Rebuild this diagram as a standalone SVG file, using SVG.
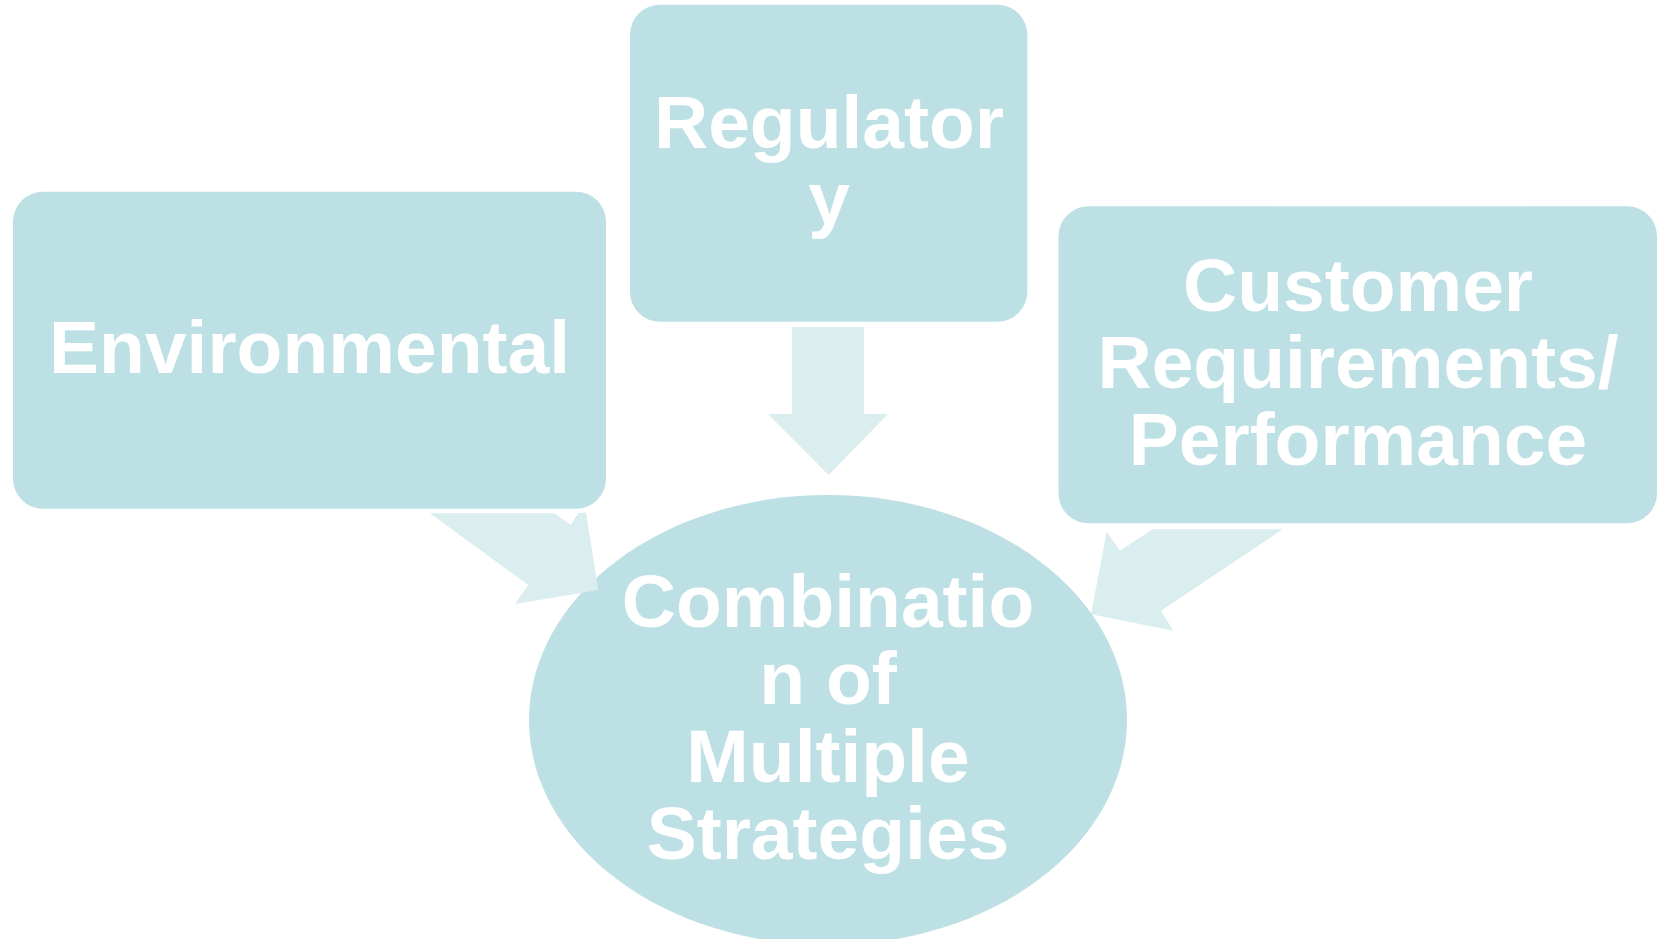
<svg xmlns="http://www.w3.org/2000/svg" width="1659" height="939" viewBox="0 0 1659 939">
<style>
.node{fill:#BCE0E3}
.arrow{fill:#DAEDEF}
.lbl{font-family:"Liberation Sans",Arial,sans-serif;font-weight:bold;font-size:75px;fill:#FFFFFF;text-anchor:middle}
</style>
<rect width="1659" height="939" fill="#FFFFFF"/>
<g id="combination">
<ellipse class="node" cx="828" cy="720" rx="299" ry="225"/>
<text class="lbl" x="828" y="627">Combinatio</text>
<text class="lbl" x="828" y="704">n of</text>
<text class="lbl" x="828" y="782">Multiple</text>
<text class="lbl" x="828" y="859">Strategies</text>
</g>
<g id="connectors">
<polygon class="arrow" points="792,327 864,327 864,414 888,414 828.6,475 768,414 792,414"/>
<polygon class="arrow" points="430,513.3 554.3,513.3 570.7,524.7 578.3,513.3 586,512.7 598.3,590 515,604 528.3,585"/>
<polygon class="arrow" points="1282.7,529.3 1152.7,529.3 1120,550.7 1106.7,531.7 1091,614.3 1173.3,630.7 1161,610.7"/>
</g>
<g id="environmental">
<rect class="node" x="13" y="191.7" width="593" height="317" rx="30" ry="30"/>
<text class="lbl" x="309.5" y="372.7">Environmental</text>
</g>
<g id="regulatory">
<rect class="node" x="630" y="4.7" width="397.3" height="317" rx="30" ry="30"/>
<text class="lbl" x="829" y="147.7">Regulator</text>
<text class="lbl" x="829" y="224">y</text>
</g>
<g id="customer">
<rect class="node" x="1058.5" y="206.3" width="598.5" height="317" rx="30" ry="30"/>
<text class="lbl" x="1358" y="310.7">Customer</text>
<text class="lbl" x="1358" y="388.3">Requirements/</text>
<text class="lbl" x="1358" y="465.3">Performance</text>
</g>
</svg>
